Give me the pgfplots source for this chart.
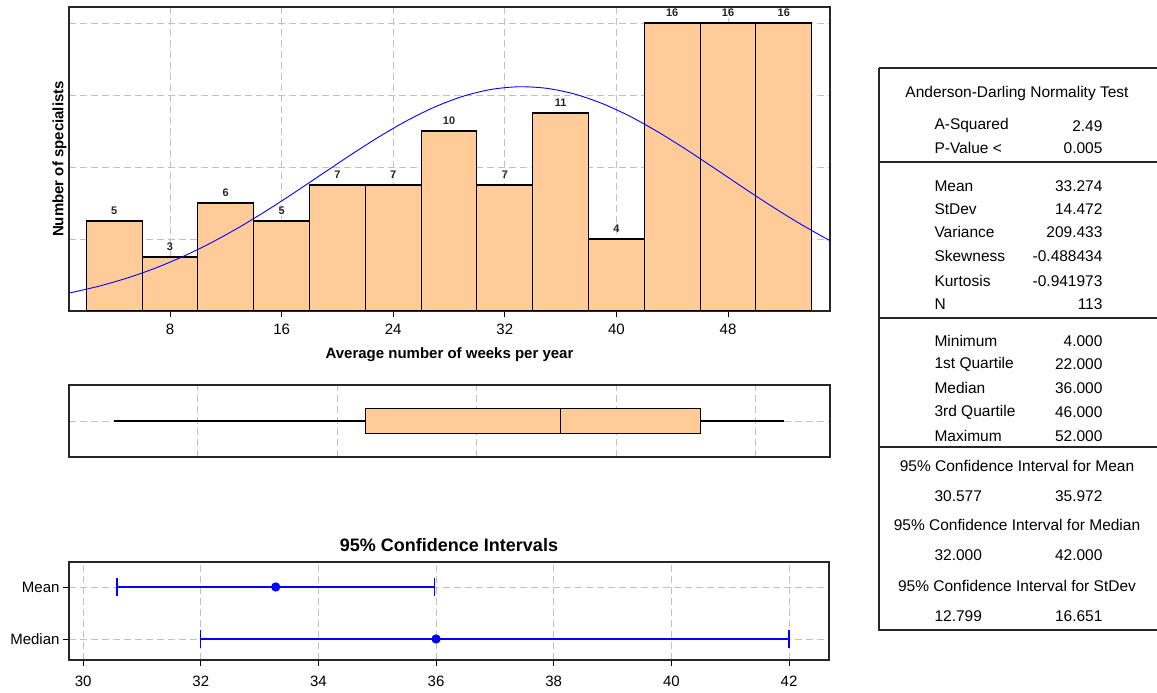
\documentclass[border=0pt]{standalone}
\usepackage{pgfplots}
\pgfplotsset{compat=1.18}
\usepgfplotslibrary{statistics}
\usepackage{fontspec}
\setmainfont{Liberation Sans}
\definecolor{peach}{RGB}{255,204,153}
\definecolor{gridgray}{RGB}{192,192,192}
\begin{document}
\begin{tikzpicture}
\path[use as bounding box] (0pt,0pt) rectangle (1157pt,693pt);
\pgfplotsset{
  mygrid/.style={grid style={gridgray, dash pattern=on 7pt off 4pt, line width=0.9pt}},
  every axis/.append style={axis line style={line width=1.1pt, black!85}, scale only axis,
    /pgf/number format/assume math mode=true, tick style={black, line width=0.8pt}},
}
% ---------------- Histogram ----------------
\begin{axis}[at={(69pt,382pt)}, anchor=south west, width=761pt, height=304pt,
  xmin=0.76, xmax=55.31, ymin=0, ymax=16.89,
  xtick={8,16,24,32,40,48}, ytick={4,8,12,16}, yticklabels={},
  ytick style={draw=none},
  xmajorgrids, ymajorgrids, mygrid,
  tick align=outside, major tick length=6pt, xtick pos=bottom,
  ticklabel style={font=\fontsize{15}{15}\selectfont},
  xticklabel style={yshift=-3pt},
  xlabel={Average number of weeks per year}, ylabel={Number of specialists},
  label style={font=\bfseries\fontsize{15}{15}\selectfont},
  xlabel style={yshift=-7pt}, ylabel style={yshift=-14pt}]
\addplot[ybar interval, fill=peach, draw=black, line width=1.1pt] coordinates
  {(2,5)(6,3)(10,6)(14,5)(18,7)(22,7)(26,10)(30,7)(34,11)(38,4)(42,16)(46,16)(50,16)(54,16)};
\addplot[blue, line width=0.9pt, smooth] coordinates
  {(0.76,0.998)(1,1.036)(3,1.397)(5,1.848)(7,2.397)(9,3.052)(11,3.811)(13,4.670)(15,5.614)(17,6.621)(19,7.660)(21,8.696)(23,9.685)(25,10.581)(27,11.342)(29,11.928)(31,12.307)(33,12.458)(35,12.372)(37,12.054)(39,11.522)(41,10.805)(43,9.941)(45,8.973)(47,7.946)(49,6.904)(51,5.885)(53,4.921)(55,4.037)(55.31,3.913)};
\addplot[draw=none, mark=none, nodes near coords, point meta=y,
  nodes near coords style={font=\bfseries\fontsize{11}{11}\selectfont, anchor=south, yshift=3pt, text=black!85}]
  coordinates {(4,5)(8,3)(12,6)(16,5)(20,7)(24,7)(28,10)(32,7)(36,11)(40,4)(44,16)(48,16)(52,16)};
\end{axis}
% ---------------- Boxplot ----------------
\begin{axis}[at={(69pt,236pt)}, anchor=south west, width=761pt, height=72pt,
  xmin=0.76, xmax=55.31, ymin=0, ymax=1,
  xtick={10,20,30,40,50}, ytick={0.5}, xticklabels={}, yticklabels={},
  tick style={draw=none}, xmajorgrids, ymajorgrids, mygrid,
  boxplot/every whisker/.style={black, line width=1.3pt},
  boxplot/every box/.style={fill=peach, draw=black, line width=1.2pt},
  boxplot/every median/.style={black, line width=1.3pt}]
\addplot[fill=peach, draw=black, line width=1.2pt,
  boxplot prepared={lower whisker=4, lower quartile=22, median=36, upper quartile=46, upper whisker=52,
  draw direction=x, draw position=0.5, box extend=0.35, whisker extend=0}] coordinates {};
\end{axis}
% ---------------- Confidence intervals ----------------
\begin{axis}[at={(69pt,33pt)}, anchor=south west, width=760pt, height=98pt,
  xmin=29.76, xmax=42.68, ymin=0.596, ymax=2.48,
  xtick={30,32,34,36,38,40,42}, ytick={1,2}, yticklabels={Median,Mean},
  xmajorgrids, ymajorgrids, mygrid,
  tick align=outside, major tick length=6pt, xtick pos=bottom, ytick pos=left,
  ticklabel style={font=\fontsize{15}{15}\selectfont},
  xticklabel style={yshift=-6pt},
  title={95\% Confidence Intervals},
  title style={font=\bfseries\fontsize{18}{18}\selectfont, yshift=1pt}]
\addplot[blue, line width=1.2pt, mark=*, mark size=4pt, mark options={fill=blue},
  error bars/.cd, x dir=both, x explicit, error mark=|,
  error bar style={blue, line width=1.2pt},
  error mark options={blue, line width=1.2pt, mark size=9pt}]
  coordinates {(33.274,2) +- (2.697,0)};
\addplot[blue, line width=1.2pt, mark=*, mark size=4pt, mark options={fill=blue},
  error bars/.cd, x dir=both, x explicit, error mark=|,
  error bar style={blue, line width=1.2pt},
  error mark options={blue, line width=1.2pt, mark size=9pt}]
  coordinates {(36,1) += (6,0) -= (4,0)};
\end{axis}
% ---------------- Table ----------------
\begin{scope}[x=1pt, y=1pt, font=\fontsize{15.5}{15.5}\selectfont]
\draw[line width=1.2pt, black!85] (879,625) -- (1160,625);
\draw[line width=1.2pt, black!85] (879,625) -- (879,63) -- (1160,63);
\draw[line width=1.2pt, black!85] (879,531) -- (1160,531);
\draw[line width=1.2pt, black!85] (879,375) -- (1160,375);
\draw[line width=1.2pt, black!85] (879,246) -- (1160,246);
\node at (1017,599) {Anderson-Darling Normality Test};
\node[anchor=west] at (931,567) {A-Squared};   \node[anchor=east] at (1106,567) {2.49};
\node[anchor=west] at (931,545) {P-Value <};   \node[anchor=east] at (1106,545) {0.005};
\node[anchor=west] at (931,507) {Mean};        \node[anchor=east] at (1106,507) {33.274};
\node[anchor=west] at (931,484) {StDev};       \node[anchor=east] at (1106,484) {14.472};
\node[anchor=west] at (931,461) {Variance};    \node[anchor=east] at (1106,461) {209.433};
\node[anchor=west] at (931,437) {Skewness};    \node[anchor=east] at (1106,437) {-0.488434};
\node[anchor=west] at (931,412) {Kurtosis};    \node[anchor=east] at (1106,412) {-0.941973};
\node[anchor=west] at (931,389) {N};           \node[anchor=east] at (1106,389) {113};
\node[anchor=west] at (931,352) {Minimum};     \node[anchor=east] at (1106,352) {4.000};
\node[anchor=west] at (931,329) {1st Quartile};\node[anchor=east] at (1106,329) {22.000};
\node[anchor=west] at (931,305) {Median};      \node[anchor=east] at (1106,305) {36.000};
\node[anchor=west] at (931,281) {3rd Quartile};\node[anchor=east] at (1106,281) {46.000};
\node[anchor=west] at (931,257) {Maximum};     \node[anchor=east] at (1106,257) {52.000};
\node at (1017,227) {95\% Confidence Interval for Mean};
\node[anchor=west] at (931,197) {30.577};      \node[anchor=east] at (1106,197) {35.972};
\node at (1017,168) {95\% Confidence Interval for Median};
\node[anchor=west] at (931,138) {32.000};      \node[anchor=east] at (1106,138) {42.000};
\node at (1017,107) {95\% Confidence Interval for StDev};
\node[anchor=west] at (931,77) {12.799};       \node[anchor=east] at (1106,77) {16.651};
\end{scope}
\end{tikzpicture}
\end{document}
